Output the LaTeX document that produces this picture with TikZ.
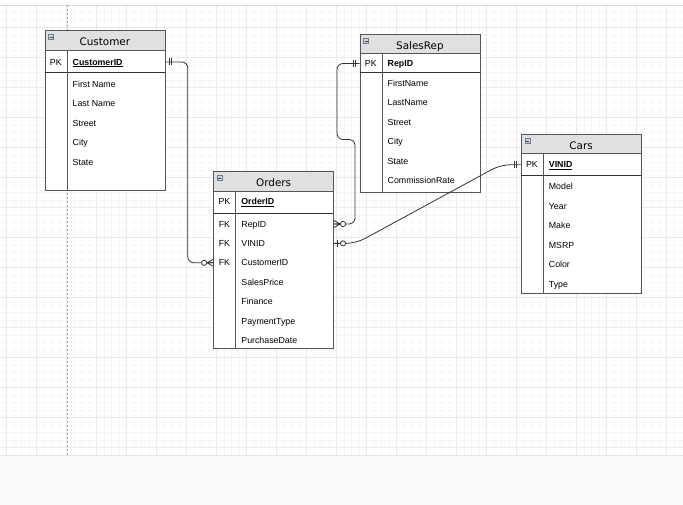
\documentclass[tikz,border=0pt]{standalone}
\usepackage{fontspec}
\setmainfont{Liberation Sans}
\newfontfamily\titlefont{DejaVu Sans}
\usetikzlibrary{positioning,calc}
\definecolor{gridminc}{RGB}{246,246,246}
\definecolor{gridmajc}{RGB}{233,233,233}
\definecolor{paper}{RGB}{248,249,250}
\definecolor{hdrgray}{RGB}{224,224,224}
\definecolor{frame}{RGB}{85,85,85}
\definecolor{wire}{RGB}{51,51,51}
\definecolor{iconblue}{RGB}{200,214,230}
\definecolor{iconedge}{RGB}{110,122,138}
\tikzset{
  gridmin/.style={draw=gridminc,line width=0.5pt},
  gridmaj/.style={draw=gridmajc,line width=0.6pt},
  pagebrk/.style={draw=black!35,line width=0.6pt,dash pattern=on 2pt off 2pt},
  tbl/.style={draw=frame,fill=white,line width=0.8pt,inner sep=0pt,anchor=north west,minimum width=120pt},
  hdr/.style={draw=frame,fill=hdrgray,line width=0.8pt,inner sep=0pt,anchor=north west,minimum width=120pt,
    minimum height=#1,font=\titlefont\fontsize{10.4}{12}\selectfont,text height=10.6pt,text depth=0pt},
  fld/.style={font=\fontsize{8.8}{10}\selectfont,anchor=west,inner sep=0pt,text height=6.3pt,text depth=0pt},
  keytxt/.style={fld,anchor=center},
  rowline/.style={draw=wire,line width=0.8pt},
  divl/.style={draw=frame,line width=0.7pt},
  conn/.style={draw=wire,line width=0.8pt,rounded corners=#1},
  conn/.default=6pt,
  icon/.style={draw=iconedge,fill=iconblue,minimum size=5pt,inner sep=0pt,line width=0.4pt,
    path picture={\draw[black!75,line width=0.7pt] ([xshift=1pt]path picture bounding box.west) -- ([xshift=-1pt]path picture bounding box.east);}},
  % ER end marks
  pics/mand one/.style={code={
    \draw[wire,line width=0.8pt] (4,-3.5) -- (4,3.5) (6.5,-3.5) -- (6.5,3.5);
  }},
  pics/zero many/.style={code={
    \draw[wire,line width=0.8pt] (0,-3.5) -- (6,0) -- (0,3.5) (0,0) -- (6,0);
    \draw[wire,line width=0.8pt,fill=white] (9,0) circle (2.6pt);
  }},
  pics/zero one/.style={code={
    \draw[wire,line width=0.8pt] (3.5,-3.5) -- (3.5,3.5);
    \draw[wire,line width=0.8pt,fill=white] (9,0) circle (2.6pt);
  }},
}

\begin{document}
\begin{tikzpicture}[x=1pt,y=-1pt]
  \useasboundingbox (0,0) rectangle (683,505);
  \fill[white] (0,0) rectangle (683,505);
  % canvas grid
  \foreach \i in {1,...,91} \draw[gridmin] ({-0.8+7.5*\i},5) -- ++(0,450);
  \foreach \i in {1,...,59} \draw[gridmin] (0,{4.8+7.5*\i}) -- ++(683,0);
  \foreach \i in {0,...,22} \draw[gridmaj] ({6.7+30*\i},5) -- ++(0,450);
  \foreach \i in {0,...,14} \draw[gridmaj] (0,{27.3+30*\i}) -- ++(683,0);
  \draw[draw=black!14,line width=0.8pt] (0,5) -- (683,5);
  \fill[paper] (0,455) rectangle (683,505);
  \draw[draw=black!10,line width=0.8pt] (0,455) -- (683,455);
  \draw[pagebrk] (67,5) -- (67,455);

  % Customer
  \node[tbl,minimum height=160pt] (cust) at (44.5,30) {};
  \node[hdr=20.5pt] (cust-h) at (cust.north west) {Customer};
  \node[icon] (cust-i) at (51,37.2) {};
  \draw[rowline] (44.5,72.7) -- (164.5,72.7);
  \draw[divl] (67,50.5) -- (67,190);
  \node[keytxt] (cust-k) at (55.75,62) {PK};
  \node[fld] (cust-pk) at (72.5,62) {\underline{\textbf{CustomerID}}};
  \foreach \f [count=\i from 0] in {First Name,Last Name,Street,City,State}
    \node[fld] (cust-\i) at (72.5,{84.3+19.4*\i}) {\f};

  % SalesRep
  \node[tbl,minimum height=158.3pt] (srep) at (359.5,34) {};
  \node[hdr=19.5pt] (srep-h) at (srep.north west) {SalesRep};
  \node[icon] (srep-i) at (366,41.2) {};
  \draw[rowline] (359.5,72.7) -- (479.5,72.7);
  \draw[divl] (382,53.5) -- (382,192.3);
  \node[keytxt] (srep-k) at (370.75,63.5) {PK};
  \node[fld] (srep-pk) at (387.5,63.5) {\textbf{RepID}};
  \foreach \f [count=\i from 0] in {FirstName,LastName,Street,City,State,CommissionRate}
    \node[fld] (srep-\i) at (387.5,{83.3+19.5*\i}) {\f};

  % Cars
  \node[tbl,minimum height=158.7pt] (cars) at (520.7,134) {};
  \node[hdr=19.5pt] (cars-h) at (cars.north west) {Cars};
  \node[icon] (cars-i) at (527.2,141.2) {};
  \draw[rowline] (520.7,175) -- (640.7,175);
  \draw[divl] (543.2,153.5) -- (543.2,292.7);
  \node[keytxt] (cars-k) at (531.95,164.7) {PK};
  \node[fld] (cars-pk) at (548.7,164.7) {\underline{\textbf{VINID}}};
  \foreach \f [count=\i from 0] in {Model,Year,Make,MSRP,Color,Type}
    \node[fld] (cars-\i) at (548.7,{186.7+19.5*\i}) {\f};

  % Orders
  \node[tbl,minimum height=176.7pt] (ord) at (213.2,171) {};
  \node[hdr=19.7pt] (ord-h) at (ord.north west) {Orders};
  \node[icon] (ord-i) at (219.7,178.2) {};
  \draw[rowline] (213.2,213.3) -- (333.2,213.3);
  \draw[divl] (235.7,190.7) -- (235.7,347.7);
  \node[keytxt] (ord-k) at (224.45,201.7) {PK};
  \node[fld] (ord-pk) at (241.2,201.7) {\underline{\textbf{OrderID}}};
  \foreach \f/\k/\n [count=\i from 0] in {RepID/FK/rep,VINID/FK/vin,CustomerID/FK/cid,
      SalesPrice//sp,Finance//fin,PaymentType//pay,PurchaseDate//date} {
    \node[fld] (ord-\n) at (241.2,{224+19.4*\i}) {\f};
    \node[keytxt] (ord-k\n) at (224.45,{224+19.4*\i}) {\k};
  }

  % relationships
  \draw[conn] (cust.east |- cust-pk) -- ++(22.5,0) |- (ord.west |- ord-cid);
  \pic at (cust.east |- cust-pk) {mand one};
  \pic[xscale=-1] at (ord.west |- ord-cid) {zero many};

  \draw[conn] (srep.west |- srep-pk) -- ++(-22.5,0) -- ++(0,76) -- ++(18,0) |- (ord.east |- ord-rep);
  \pic[xscale=-1] at (srep.west |- srep-pk) {mand one};
  \pic at (ord.east |- ord-rep) {zero many};

  \draw[conn=10pt] (ord.east |- ord-vin) -- ++(22,0) -- ($(cars.west |- cars-pk)+(-20,0)$) -- (cars.west |- cars-pk);
  \pic at (ord.east |- ord-vin) {zero one};
  \pic[xscale=-1] at (cars.west |- cars-pk) {mand one};
\end{tikzpicture}
\end{document}
